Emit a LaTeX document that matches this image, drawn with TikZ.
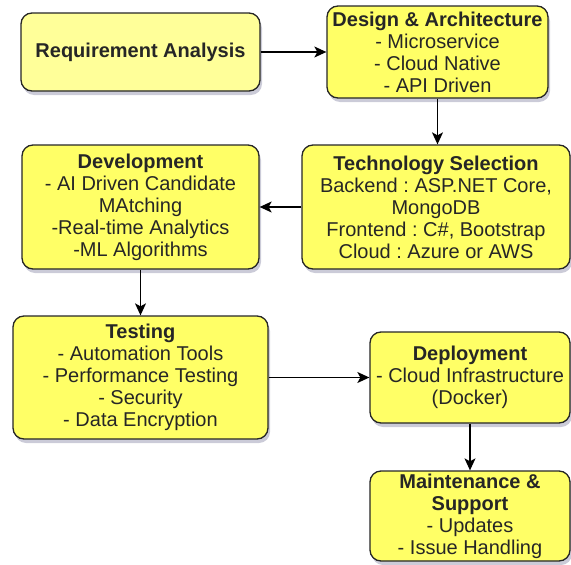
\documentclass[tikz,border=0pt]{standalone}
\usepackage{fontspec}
\setmainfont{Liberation Sans}
\usepackage{xcolor}
\usetikzlibrary{arrows.meta,shadows}
\definecolor{paleyel}{HTML}{FFFF99}
\definecolor{stageyel}{HTML}{FFFF66}
\definecolor{shadowgray}{HTML}{8C8CA8}
\tikzset{
  stage/.style={draw=black!85, rounded corners=11pt, line width=1.3pt, fill=stageyel,
    align=center, inner sep=0pt, text=black!85,
    font=\fontsize{20}{22}\selectfont\frenchspacing,
    drop shadow={shadow xshift=2pt, shadow yshift=-4pt, fill=shadowgray, opacity=0.45}},
  stagelt/.style={stage, fill=paleyel},
  flow/.style={-{Stealth[length=12pt, width=11pt, inset=3pt]}, line width=1.2pt, draw=black},
}

\begin{document}
\begin{tikzpicture}[x=1pt, y=-1pt]
\useasboundingbox (0,0) rectangle (571,565);

% process stages
\node[stagelt, minimum width=239pt, minimum height=78pt] (req) at (140.5,52)
  {\textbf{Requirement Analysis}};
\node[stage, minimum width=221pt, minimum height=92pt] (design) at (437.5,52)
  {\textbf{Design \& Architecture}\\- Microservice\\- Cloud Native\\- API Driven};
\node[stage, minimum width=268pt, minimum height=124pt] (tech) at (436,207)
  {\textbf{Technology Selection}\\Backend : ASP.NET Core,\\MongoDB\\Frontend : C\#, Bootstrap\\Cloud : Azure or AWS};
\node[stage, minimum width=237pt, minimum height=124pt] (dev) at (140.5,207)
  {\textbf{Development}\\- AI Driven Candidate\\MAtching\\-Real-time Analytics\\-ML Algorithms};
\node[stage, minimum width=255pt, minimum height=123pt] (test) at (140.5,377.5)
  {\textbf{Testing}\\- Automation Tools\\- Performance Testing\\- Security\\- Data Encryption};
\node[stage, minimum width=200pt, minimum height=91pt] (deploy) at (470,377.5)
  {\textbf{Deployment}\\- Cloud Infrastructure\\(Docker)};
\node[stage, minimum width=200pt, minimum height=90pt] (maint) at (470,516)
  {\textbf{Maintenance \&}\\\textbf{Support}\\- Updates\\- Issue Handling};

% connectors
\draw[flow] (req) -- (design);
\draw[flow] (design.south) -- (design.south |- tech.north);
\draw[flow] (tech) -- (dev);
\draw[flow] (dev) -- (test);
\draw[flow] (test) -- (deploy);
\draw[flow] (deploy) -- (maint);
\end{tikzpicture}
\end{document}
